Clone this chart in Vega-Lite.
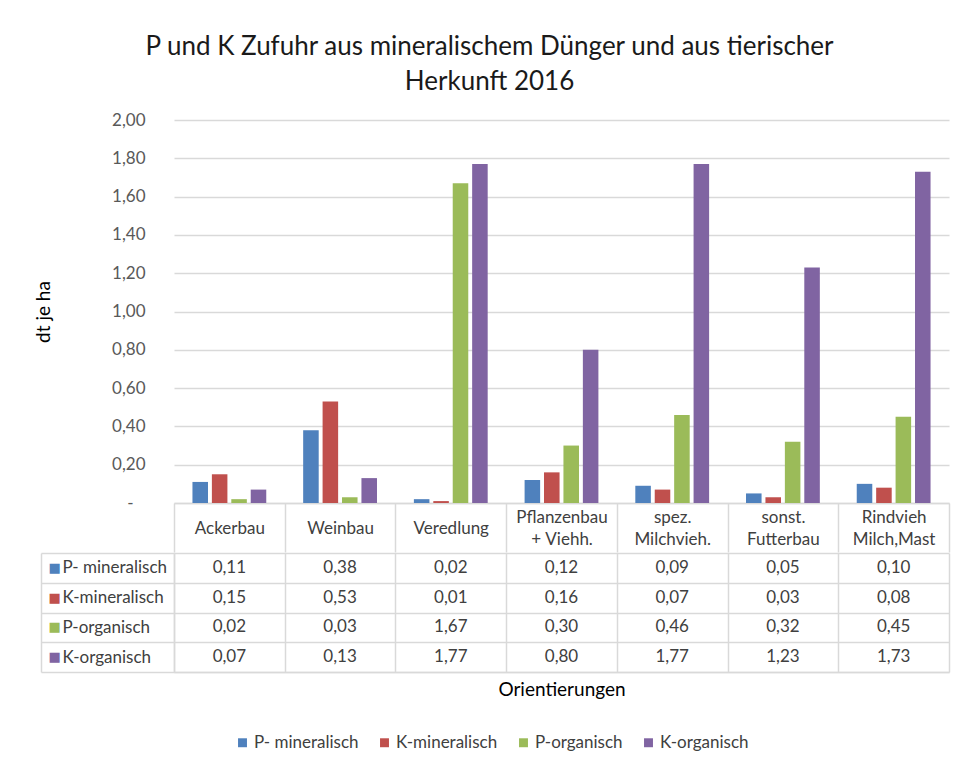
{
  "$schema": "https://vega.github.io/schema/vega-lite/v6.json",
  "padding": {"left": 34, "top": 34, "right": 10, "bottom": 10},
  "title": {
    "text": ["P und K Zufuhr aus mineralischem Dünger und aus tierischer", "Herkunft 2016"],
    "font": "Lato", "fontSize": 26, "fontWeight": "normal", "color": "#1a1a1a",
    "anchor": "middle", "frame": "group", "dx": -72, "lineHeight": 35, "offset": 16
  },
  "data": {
    "values": [
      {"kat": "Ackerbau", "serie": "P- mineralisch", "wert": 0.11},
      {"kat": "Ackerbau", "serie": "K-mineralisch", "wert": 0.15},
      {"kat": "Ackerbau", "serie": "P-organisch", "wert": 0.02},
      {"kat": "Ackerbau", "serie": "K-organisch", "wert": 0.07},
      {"kat": "Weinbau", "serie": "P- mineralisch", "wert": 0.38},
      {"kat": "Weinbau", "serie": "K-mineralisch", "wert": 0.53},
      {"kat": "Weinbau", "serie": "P-organisch", "wert": 0.03},
      {"kat": "Weinbau", "serie": "K-organisch", "wert": 0.13},
      {"kat": "Veredlung", "serie": "P- mineralisch", "wert": 0.02},
      {"kat": "Veredlung", "serie": "K-mineralisch", "wert": 0.01},
      {"kat": "Veredlung", "serie": "P-organisch", "wert": 1.67},
      {"kat": "Veredlung", "serie": "K-organisch", "wert": 1.77},
      {"kat": "Pflanzenbau + Viehh.", "serie": "P- mineralisch", "wert": 0.12},
      {"kat": "Pflanzenbau + Viehh.", "serie": "K-mineralisch", "wert": 0.16},
      {"kat": "Pflanzenbau + Viehh.", "serie": "P-organisch", "wert": 0.30},
      {"kat": "Pflanzenbau + Viehh.", "serie": "K-organisch", "wert": 0.80},
      {"kat": "spez. Milchvieh.", "serie": "P- mineralisch", "wert": 0.09},
      {"kat": "spez. Milchvieh.", "serie": "K-mineralisch", "wert": 0.07},
      {"kat": "spez. Milchvieh.", "serie": "P-organisch", "wert": 0.46},
      {"kat": "spez. Milchvieh.", "serie": "K-organisch", "wert": 1.77},
      {"kat": "sonst. Futterbau", "serie": "P- mineralisch", "wert": 0.05},
      {"kat": "sonst. Futterbau", "serie": "K-mineralisch", "wert": 0.03},
      {"kat": "sonst. Futterbau", "serie": "P-organisch", "wert": 0.32},
      {"kat": "sonst. Futterbau", "serie": "K-organisch", "wert": 1.23},
      {"kat": "Rindvieh Milch,Mast", "serie": "P- mineralisch", "wert": 0.10},
      {"kat": "Rindvieh Milch,Mast", "serie": "K-mineralisch", "wert": 0.08},
      {"kat": "Rindvieh Milch,Mast", "serie": "P-organisch", "wert": 0.45},
      {"kat": "Rindvieh Milch,Mast", "serie": "K-organisch", "wert": 1.73}
    ]
  },
  "spacing": -10,
  "vconcat": [
    {
      "width": 775,
      "height": 383,
      "mark": {"type": "bar"},
      "encoding": {
        "x": {
          "field": "kat", "type": "nominal",
          "sort": ["Ackerbau", "Weinbau", "Veredlung", "Pflanzenbau + Viehh.", "spez. Milchvieh.", "sonst. Futterbau", "Rindvieh Milch,Mast"],
          "scale": {"paddingInner": 0, "paddingOuter": 0},
          "axis": {
            "title": null, "orient": "bottom",
            "domain": true, "domainColor": "#D9D9D9", "domainWidth": 1.5,
            "ticks": true, "tickBand": "extent", "tickSize": 49, "tickColor": "#D9D9D9", "tickWidth": 1.5,
            "labelAngle": 0,
            "labelExpr": "indexof(datum.label, ' ') < 0 ? ['\u00a0', datum.label] : split(replace(datum.label, ' ', '|\u2800|'), '|')",
            "labelBaseline": "middle",
            "labelPadding": -35, "labelFontSize": 17,
            "labelColor": "#404040", "labelLineHeight": 11,
            "labelOverlap": false, "labelBound": false, "labelLimit": 0, "grid": false
          }
        },
        "xOffset": {
          "field": "serie", "type": "nominal",
          "sort": ["P- mineralisch", "K-mineralisch", "P-organisch", "K-organisch"],
          "scale": {"paddingInner": 0.2, "paddingOuter": 0.95}
        },
        "y": {
          "field": "wert", "type": "quantitative",
          "scale": {"domain": [0, 2], "nice": false},
          "axis": {
            "title": "dt je ha",
            "values": [0, 0.2, 0.4, 0.6, 0.8, 1, 1.2, 1.4, 1.6, 1.8, 2],
            "labelExpr": "datum.value === 0 ? '-\u2800' : replace(format(datum.value, '.2f'), '.', ',')",
            "grid": true, "gridColor": "#D9D9D9", "gridWidth": 1.3,
            "domain": false, "ticks": false,
            "labelPadding": 29, "labelFontSize": 17, "labelColor": "#595959",
            "titleFontSize": 19, "titleFontWeight": "normal", "titleColor": "#000000",
            "titlePadding": 58
          }
        },
        "color": {
          "field": "serie", "type": "nominal",
          "sort": ["P- mineralisch", "K-mineralisch", "P-organisch", "K-organisch"],
          "scale": {
            "domain": ["P- mineralisch", "K-mineralisch", "P-organisch", "K-organisch"],
            "range": ["#4F81BD", "#C0504D", "#9BBB59", "#8064A2"]
          },
          "legend": {
            "orient": "none", "legendX": 60, "legendY": 614,
            "direction": "horizontal", "title": null,
            "symbolType": "square", "symbolSize": 80, "symbolStrokeWidth": 0,
            "labelFontSize": 17, "labelColor": "#404040",
            "columnPadding": 17, "labelOffset": 3
          }
        }
      }
    },
    {
      "width": 775,
      "height": 119,
      "layer": [
        {
          "mark": {"type": "text", "fontSize": 17, "color": "#404040", "font": "Lato"},
          "encoding": {
            "x": {
              "field": "kat", "type": "nominal",
              "sort": ["Ackerbau", "Weinbau", "Veredlung", "Pflanzenbau + Viehh.", "spez. Milchvieh.", "sonst. Futterbau", "Rindvieh Milch,Mast"],
              "scale": {"type": "band", "paddingInner": 0, "paddingOuter": 0},
              "axis": {
                "title": "Orientierungen", "labels": false, "ticks": false,
                "domain": true, "domainColor": "#D9D9D9", "domainWidth": 1.5,
                "grid": true, "gridColor": "#D9D9D9", "gridWidth": 1.5, "tickBand": "extent",
                "titleFontSize": 19, "titleFontWeight": "normal", "titleColor": "#000000", "titlePadding": 8
              }
            },
            "y": {
              "field": "serie", "type": "nominal",
              "sort": ["P- mineralisch", "K-mineralisch", "P-organisch", "K-organisch"],
              "scale": {"type": "band", "paddingInner": 0, "paddingOuter": 0},
              "axis": {
                "title": null, "orient": "left",
                "domain": true, "domainColor": "#D9D9D9", "domainWidth": 1.5,
                "ticks": true, "tickSize": 133, "tickColor": "#D9D9D9", "tickWidth": 1.5, "tickBand": "extent",
                "grid": true, "gridColor": "#D9D9D9", "gridWidth": 1.5,
                "labelAlign": "left", "labelPadding": -21, "labelFontSize": 17,
                "labelColor": "#404040", "labelBaseline": "middle"
              }
            },
            "text": {"field": "wert", "type": "quantitative", "format": ".2f"}
          }
        },
        {
          "mark": {"type": "text", "text": ""},
          "encoding": {
            "y": {
              "field": "serie", "type": "nominal",
              "sort": ["P- mineralisch", "K-mineralisch", "P-organisch", "K-organisch"],
              "scale": {"type": "band", "paddingInner": 0, "paddingOuter": 0},
              "axis": {
                "title": null, "orient": "left", "offset": 133,
                "domain": true, "domainColor": "#D9D9D9", "domainWidth": 1.5,
                "ticks": false, "grid": false,
                "labelExpr": "'■'", "labelFont": "DejaVu Sans", "labelFontSize": 13,
                "labelAlign": "left", "labelPadding": -7, "labelBaseline": "middle",
                "labelColor": {
                  "condition": [
                    {"test": "datum.value === 'P- mineralisch'", "value": "#4F81BD"},
                    {"test": "datum.value === 'K-mineralisch'", "value": "#C0504D"},
                    {"test": "datum.value === 'P-organisch'", "value": "#9BBB59"}
                  ],
                  "value": "#8064A2"
                }
              }
            }
          }
        }
      ],
      "resolve": {"scale": {"y": "independent"}, "axis": {"y": "independent"}}
    }
  ],
  "config": {
    "font": "Lato",
    "view": {"stroke": null},
    "locale": {"number": {"decimal": ",", "thousands": ".", "grouping": [3], "currency": ["", " €"]}},
    "axis": {"labelFont": "Lato", "titleFont": "Lato"},
    "legend": {"labelFont": "Lato"}
  }
}
